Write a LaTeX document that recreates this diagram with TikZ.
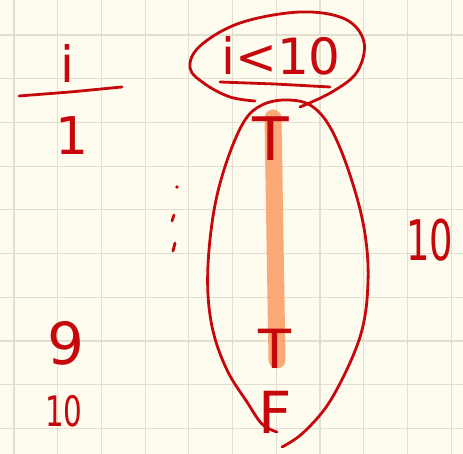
\documentclass[tikz,border=0pt]{standalone}
\usepackage{fontspec}
\setmainfont{DejaVu Sans}
\definecolor{paper}{RGB}{254,252,238}
\definecolor{gridc}{RGB}{226,223,210}
\definecolor{ink}{RGB}{198,8,12}
\definecolor{hl}{RGB}{252,160,108}
\tikzset{
  pen/.style={draw=ink, line width=2.8pt, line cap=round, line join=round},
  hand/.style={text=ink, inner sep=0pt, font=\fontsize{#1}{#1}\selectfont},
}
\begin{document}
\begin{tikzpicture}[x=1pt,y=-1pt]
\useasboundingbox (0,0) rectangle (463,454);
\fill[paper] (0,0) rectangle (463,454);
% grid
\foreach \k in {0,...,10} {
  \draw[gridc, line width=1.1pt] ({14+43.72*\k},0) -- ({14+43.72*\k},454);
}
\foreach \k in {0,...,9} {
  \draw[gridc, line width=1.1pt] (0,{35+43.72*\k}) -- (463,{35+43.72*\k});
}
% left table
\node[hand=50] (hi) at (67,64) {i};
\draw[pen] (19,96) -- (70,92) -- (122,87);
\node[hand=52] (one) at (72,136) {1};
\node[hand=58] (nine) at (66,343) {9};
\node[hand=42, xscale=0.7] (ten) at (64,411) {10};
% vertical dots
\fill[ink] (177,187) circle (1.8);
\draw[pen] (174,215) -- (172,221);
\draw[pen] (175,243) -- (173,251);
% orange highlight
\draw[hl, opacity=0.9, line width=17pt, line cap=round] (273,118) .. controls (275,240) .. (277,360);
% top condition loop
\node[hand=50] (cond) at (281,56) {i<10};
\draw[pen] (220,82) -- (275,84) -- (330,87);
\draw[pen] plot[smooth, tension=0.6] coordinates {(255,101) (230,97) (205,84) (190,68) (200,46) (240,23) (300,12) (345,19) (364,42) (357,72) (332,92) (300,107)};
% big loop
\draw[pen] plot[smooth, tension=0.6] coordinates {(277,432) (262,424) (247,402) (228,372) (214,335) (208,295) (209,250) (216,200) (229,155) (245,120) (262,105) (285,100) (310,105) (330,127) (349,172) (364,228) (368,282) (360,337) (332,398) (304,432) (282,447)};
% T, T, F
\node[hand=60] (t1) at (271,139) {T};
\node[hand=54] (t2) at (275,349) {T};
\node[hand=58] (f) at (275,412) {F};
% right 10
\node[hand=56, xscale=0.66] (rten) at (430,240) {10};
\end{tikzpicture}
\end{document}
